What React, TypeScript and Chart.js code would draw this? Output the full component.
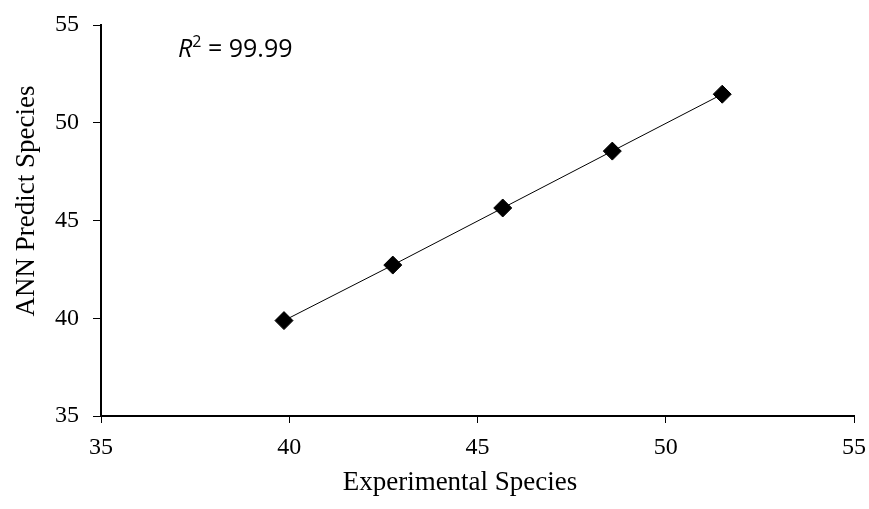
import React, { useEffect, useRef } from "react";
import { Chart, registerables } from "chart.js";

Chart.register(...registerables);

const experimental = [39.86, 42.75, 45.67, 48.58, 51.5];
const predicted = [39.88, 42.72, 45.64, 48.55, 51.46];
const axisMin = 35;
const axisMax = 55;
const tickStep = 5;
const xTitle = "Experimental Species";
const yTitle = "ANN Predict Species";
const r2Value = "99.99";

const textPlugin = {
  id: "customText",
  afterDraw(chart: any) {
    const ctx = chart.ctx;
    ctx.save();
    ctx.fillStyle = "#000";
    // x title
    ctx.font = '27px "Liberation Serif", "Times New Roman", serif';
    ctx.textAlign = "center";
    ctx.textBaseline = "alphabetic";
    ctx.fillText(xTitle, 460, 490);
    // y title
    ctx.save();
    ctx.translate(34, 201);
    ctx.rotate(-Math.PI / 2);
    ctx.fillText(yTitle, 0, 0);
    ctx.restore();
    // R^2
    ctx.textAlign = "left";
    let x = 178;
    const base = 57;
    ctx.font = 'italic 25px "Open Sans", sans-serif';
    ctx.fillText("R", x, base);
    x += ctx.measureText("R").width;
    ctx.font = '16px "Open Sans", sans-serif';
    ctx.fillText("2", x, base - 10);
    x += ctx.measureText("2").width;
    ctx.font = '25px "Open Sans", sans-serif';
    ctx.fillText(" = " + r2Value, x, base);
    ctx.restore();
  },
};

export default function App() {
  const ref = useRef<HTMLCanvasElement>(null);
  useEffect(() => {
    document.body.style.margin = "0";
    const canvas = ref.current!;
    const tickFont = { family: '"Liberation Serif", "Times New Roman", serif', size: 24 };
    const chart = new Chart(canvas, {
      type: "scatter",
      data: {
        datasets: [
          {
            data: experimental.map((v, i) => ({ x: v, y: predicted[i] })),
            showLine: true,
            borderColor: "#000",
            borderWidth: 1,
            backgroundColor: "#000",
            pointStyle: "rectRot",
            pointRadius: 9,
            pointBorderWidth: 1,
            pointBorderColor: "#000",
            pointBackgroundColor: "#000",
          },
        ],
      },
      options: {
        animation: false,
        responsive: false,
        layout: { padding: { left: 0, top: 25, right: 15, bottom: 0 } },
        plugins: { legend: { display: false }, tooltip: { enabled: false } },
        scales: {
          x: {
            type: "linear",
            min: axisMin,
            max: axisMax,
            ticks: { stepSize: tickStep, color: "#000", font: tickFont, padding: 10 },
            grid: { drawOnChartArea: false, drawTicks: true, tickLength: 7, color: "#000", lineWidth: 1 },
            border: { display: true, color: "#000", width: 2 },
            afterFit: (s: any) => {
              s.height = 93;
              s.paddingLeft = 0;
              s.paddingRight = 0;
            },
          },
          y: {
            type: "linear",
            min: axisMin,
            max: axisMax,
            ticks: { stepSize: tickStep, color: "#000", font: tickFont, padding: 14 },
            grid: { drawOnChartArea: false, drawTicks: true, tickLength: 8, color: "#000", lineWidth: 1 },
            border: { display: true, color: "#000", width: 2 },
            afterFit: (s: any) => {
              s.width = 101;
              s.paddingTop = 0;
              s.paddingBottom = 0;
            },
          },
        },
      },
      plugins: [textPlugin],
    });
    return () => chart.destroy();
  }, []);
  return <canvas ref={ref} width={869} height={509} style={{ display: "block" }} />;
}
